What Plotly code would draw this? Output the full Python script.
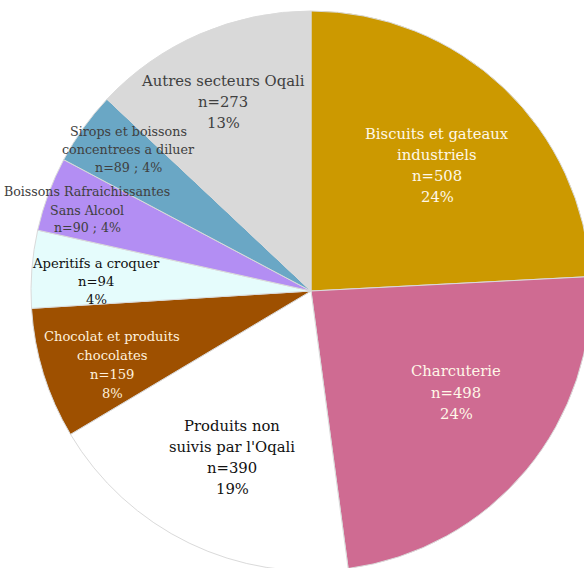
import plotly.graph_objects as go

categories = [
    "Biscuits et gateaux industriels",
    "Charcuterie",
    "Produits non suivis par l'Oqali",
    "Chocolat et produits chocolates",
    "Aperitifs a croquer",
    "Boissons Rafraichissantes Sans Alcool",
    "Sirops et boissons concentrees a diluer",
    "Autres secteurs Oqali",
]
counts = [508, 498, 390, 159, 94, 90, 89, 273]
percent_labels = ["24%", "24%", "19%", "8%", "4%", "4%", "4%", "13%"]
label_lines = [
    ["Biscuits et gateaux", "industriels", "n=508", "24%"],
    ["Charcuterie", "n=498", "24%"],
    ["Produits non", "suivis par l'Oqali", "n=390", "19%"],
    ["Chocolat et produits", "chocolates", "n=159", "8%"],
    ["Aperitifs a croquer", "n=94", "4%"],
    ["Boissons Rafraichissantes", "Sans Alcool", "n=90 ; 4%"],
    ["Sirops et boissons", "concentrees a diluer", "n=89 ; 4%"],
    ["Autres secteurs Oqali", "n=273", "13%"],
]
colors = ["#CC9900", "#CF6B92", "#FFFFFF", "#9E5000", "#E5FCFC", "#B38EF3", "#6AA7C5", "#D9D9D9"]
text_colors = ["#FFF8E8", "#FFF8E8", "#111111", "#FFF0DC", "#111111", "#404040", "#404040", "#404040"]
font_sizes = [14.8, 14.8, 14.8, 13.1, 13.2, 12.6, 12.7, 14.8]
line_gaps = [21.2, 21.4, 20.7, 18.7, 18.0, 18.0, 18.0, 20.6]
# label centre positions in pixels (layout helpers)
label_px = [(437, 165), (456, 392), (232, 457), (112, 365), (96, 281), (87, 210), (128, 149), (223, 101.5)]

W, H = 600, 580
L, T, R, B = 31, 11, 9, 9
PW, PH = W - L - R, H - T - B

fig = go.Figure(go.Pie(
    labels=categories,
    values=counts,
    sort=False,
    direction="clockwise",
    rotation=0,
    textinfo="none",
    hoverinfo="label+value+percent",
    marker=dict(colors=colors, line=dict(color="#DADADA", width=1)),
    showlegend=False,
))

for lines, (px, py), c, fs, gap in zip(label_lines, label_px, text_colors, font_sizes, line_gaps):
    n = len(lines)
    for i, line in enumerate(lines):
        ly = py + (i - (n - 1) / 2) * gap
        fig.add_annotation(
            x=(px - L) / PW, y=1 - (ly - T) / PH, xref="paper", yref="paper",
            text=line, showarrow=False, xanchor="center", yanchor="middle",
            font=dict(family="DejaVu Serif, serif", size=fs, color=c),
            align="center",
        )

fig.update_layout(
    width=W, height=H,
    margin=dict(l=L, r=R, t=T, b=B),
    paper_bgcolor="white", plot_bgcolor="white",
)

fig.write_html(
    "out.html",
    config={"displayModeBar": False},
    post_script="document.body.style.margin='0';document.body.style.overflow='hidden';document.documentElement.style.overflow='hidden';",
)
